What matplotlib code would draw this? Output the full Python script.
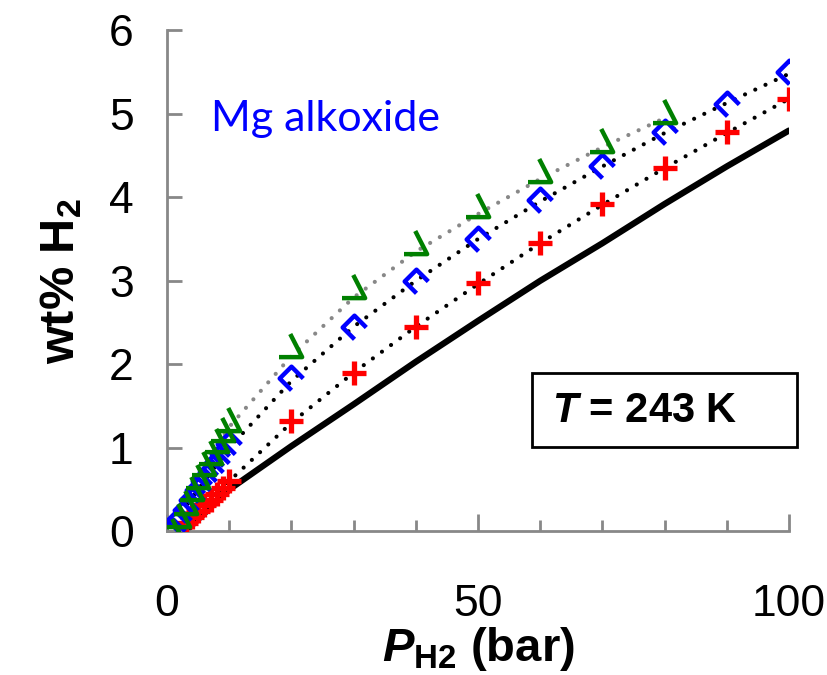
import matplotlib
matplotlib.use("Agg")
import matplotlib.pyplot as plt
from matplotlib.path import Path
from matplotlib.patches import Rectangle

plt.rcParams['font.family'] = ['Liberation Sans', 'DejaVu Sans']
plt.rcParams['mathtext.fontset'] = 'custom'
plt.rcParams['mathtext.rm'] = 'Liberation Sans:bold'
plt.rcParams['mathtext.bf'] = 'Liberation Sans:bold'
plt.rcParams['mathtext.it'] = 'Liberation Sans:italic:bold'

# green series (upper)
p_green = [1, 2, 3, 4, 5, 6, 7, 8, 9, 10, 20, 30, 40, 50, 60, 70, 80]
w_green = [0.0, 0.18, 0.34, 0.5, 0.65, 0.8, 0.94, 1.08, 1.21, 1.33,
           2.22, 2.92, 3.45, 3.9, 4.32, 4.68, 5.02]
# blue series (middle)
p_blue = [1, 2, 3, 4, 5, 6, 7, 8, 9, 10, 20, 30, 40, 50, 60, 70, 80, 90, 100]
w_blue = [0.0, 0.13, 0.25, 0.37, 0.49, 0.6, 0.71, 0.82, 0.93, 1.04,
          1.83, 2.45, 3.0, 3.5, 3.97, 4.38, 4.78, 5.12, 5.5]
# red series (lower)
p_red = [3, 4, 5, 6, 7, 8, 9, 10, 20, 30, 40, 50, 60, 70, 80, 90, 100]
w_red = [0.1, 0.17, 0.24, 0.31, 0.38, 0.45, 0.52, 0.6,
         1.32, 1.9, 2.45, 2.97, 3.45, 3.92, 4.35, 4.78, 5.18]
# dotted fit lines
fit_green_p = [0, 5, 10, 20, 30, 40, 50, 60, 70, 80]
fit_green_w = [0.0, 0.65, 1.25, 2.1, 2.8, 3.35, 3.8, 4.22, 4.6, 4.95]
fit_blue_p = [0, 5, 10, 20, 30, 40, 50, 60, 70, 80, 90, 100]
fit_blue_w = [0.0, 0.5, 1.0, 1.8, 2.45, 3.0, 3.5, 3.95, 4.37, 4.77, 5.13, 5.48]
fit_red_p = [2, 5, 10, 20, 30, 40, 50, 60, 70, 80, 90, 100]
fit_red_w = [0.0, 0.24, 0.6, 1.3, 1.9, 2.45, 2.96, 3.45, 3.91, 4.35, 4.77, 5.18]
# black solid line
line_p = [3, 10, 20, 30, 40, 50, 60, 70, 80, 90, 100]
line_w = [0.0, 0.5, 1.02, 1.52, 2.03, 2.52, 3.0, 3.45, 3.92, 4.37, 4.8]

# open-sided markers
diamond_open = Path([(0, -1), (-1, 0), (0, 1), (1, 0)],
                    [Path.MOVETO, Path.LINETO, Path.LINETO, Path.LINETO])
tri_open = Path([(-0.1, 1), (0.85, -0.85), (-1, -0.85)],
                [Path.MOVETO, Path.LINETO, Path.LINETO])

fig = plt.figure(figsize=(8.27, 6.75), dpi=100)
ax = fig.add_axes([0.202, 0.213, 0.752, 0.742])

ax.plot(line_p, line_w, color='black', lw=4.5, solid_capstyle='round', zorder=2)
dots = dict(lw=3, linestyle=(0, (0.01, 2.7)), dash_capstyle='round', zorder=2)
ax.plot(fit_green_p, fit_green_w, color='#888888', **dots)
ax.plot(fit_blue_p, fit_blue_w, color='black', **dots)
ax.plot(fit_red_p, fit_red_w, color='black', **dots)

ax.plot(p_red, w_red, linestyle='none', marker='+', ms=17, mew=3.8,
        color='#ff0000', zorder=3)
ax.plot(p_blue, w_blue, linestyle='none', marker=diamond_open, ms=17, mew=3.2,
        mfc='none', mec='#0000ff', zorder=3)
ax.plot(p_green, w_green, linestyle='none', marker=tri_open, ms=18, mew=3.2,
        mfc='none', mec='#008000', zorder=3)

ax.set_xlim(0, 100)
ax.set_ylim(0, 6)
ax.set_xticks([0, 50, 100])
ax.set_xticks(range(0, 101, 10), minor=True)
ax.set_yticks(range(0, 7))

for s in ['top', 'right']:
    ax.spines[s].set_visible(False)
for s in ['left', 'bottom']:
    ax.spines[s].set_color('#888888')
    ax.spines[s].set_linewidth(2)

ax.tick_params(axis='y', which='major', direction='in', length=11, width=2,
               color='#888888', labelsize=32, pad=24)
ax.tick_params(axis='x', which='major', direction='in', length=12, width=2,
               color='#888888', labelsize=32, pad=38)
ax.tick_params(axis='x', which='minor', direction='in', length=8, width=2,
               color='#888888')

ax.set_xlabel(r'$\mathit{P}_{\mathrm{H2}}$ (bar)', fontsize=34,
              fontweight='bold', labelpad=0)
ax.set_ylabel(r'wt% H$_{\mathrm{2}}$', fontsize=35, fontweight='bold',
              labelpad=18)

ax.text(0.07, 0.8, 'Mg alkoxide', transform=ax.transAxes, color='#0000ff',
        fontsize=31, family=['Lato', 'DejaVu Sans'])

box = Rectangle((0.643, 0.338), 0.321, 0.11, transform=fig.transFigure,
                fill=False, edgecolor='black', lw=2, clip_on=False)
fig.patches.append(box)
fig.text(0.668, 0.391, r'$\mathit{T}$ = 243 K', fontsize=30,
         fontweight='bold', va='center')

fig.savefig('out.png', dpi=100)
